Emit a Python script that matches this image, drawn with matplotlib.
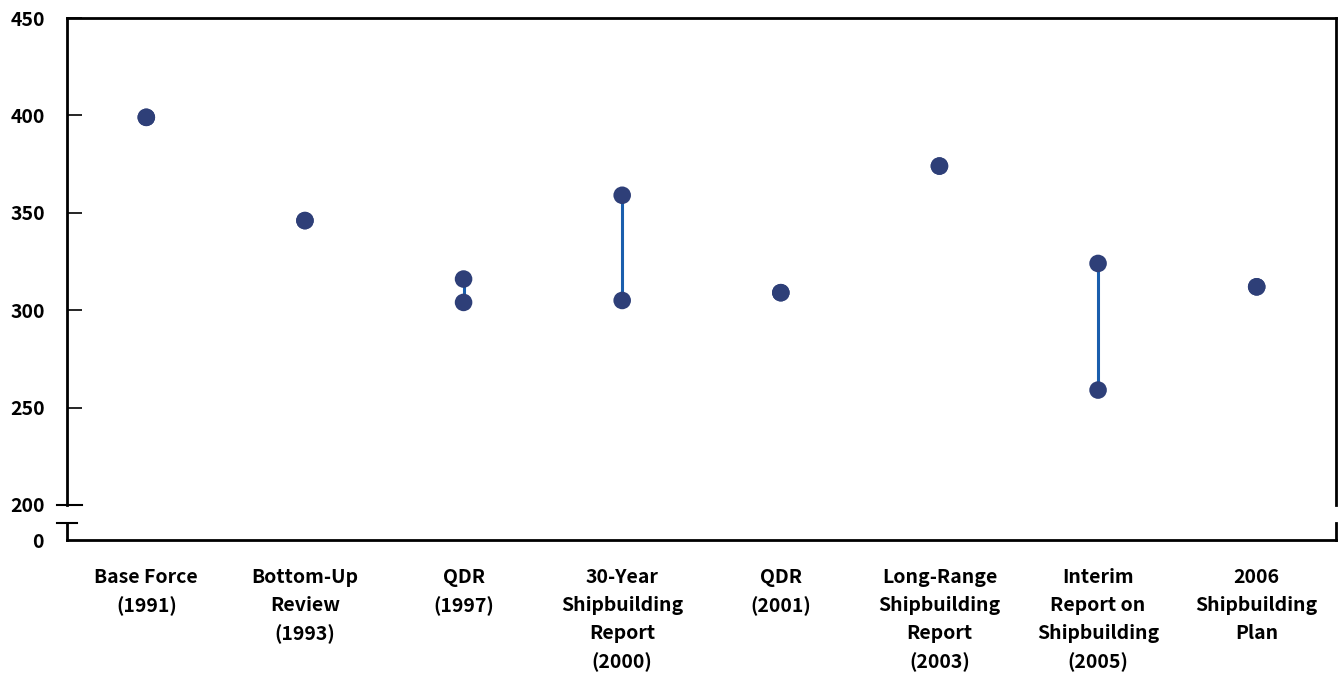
import matplotlib
matplotlib.use("Agg")
import matplotlib.pyplot as plt
from matplotlib.lines import Line2D

plt.rcParams['font.family'] = ['Noto Sans CJK KR', 'DejaVu Sans']

categories = ["Base Force\n(1991)", "Bottom-Up\nReview\n(1993)", "QDR\n(1997)",
              "30-Year\nShipbuilding\nReport\n(2000)", "QDR\n(2001)",
              "Long-Range\nShipbuilding\nReport\n(2003)",
              "Interim\nReport on\nShipbuilding\n(2005)", "2006\nShipbuilding\nPlan"]
low_values = [399, 346, 304, 305, 309, 374, 259, 312]
high_values = [399, 346, 316, 359, 309, 374, 324, 312]
yticks = [200, 250, 300, 350, 400, 450]

W, H = 1338, 673
fig = plt.figure(figsize=(W / 100, H / 100), dpi=100)

def fx(px):
    return px / W

def fy(py):
    return 1 - py / H

L, R = 67, 1336
ax = fig.add_axes([fx(L), fy(505), fx(R - L), (505 - 18) / H])
ax2 = fig.add_axes([fx(L), fy(540), fx(R - L), (540 - 523) / H])

dot_color = "#2E3F78"
line_color = "#1A5EAD"
xs = [i + 0.5 for i in range(len(categories))]

for x, lo, hi in zip(xs, low_values, high_values):
    if hi != lo:
        ax.plot([x, x], [lo, hi], color=line_color, lw=2.2, zorder=2)
ax.scatter(xs, low_values, s=160, color=dot_color, zorder=3, edgecolors="none")
ax.scatter(xs, high_values, s=160, color=dot_color, zorder=3, edgecolors="none")

ax.set_xlim(0, len(categories))
ax.set_ylim(200, 450)
ax.set_yticks(yticks)
ax.set_yticklabels([str(v) for v in yticks], fontsize=14, fontweight="bold")
ax.tick_params(axis="y", direction="in", length=11, width=1.2, pad=16)
ax.tick_params(axis="x", bottom=False, labelbottom=False)
ax.spines["bottom"].set_visible(False)
for s in ["left", "top", "right"]:
    ax.spines[s].set_linewidth(2)

ax2.set_xlim(0, len(categories))
ax2.set_ylim(0, 1)
ax2.set_yticks([0])
ax2.set_yticklabels(["0"], fontsize=14, fontweight="bold")
ax2.tick_params(axis="y", length=0, pad=17)
ax2.set_xticks(xs)
ax2.set_xticklabels(categories, fontsize=14, fontweight="bold", linespacing=1.6)
ax2.tick_params(axis="x", length=0, pad=20)
ax2.spines["top"].set_visible(False)
for s in ["left", "bottom", "right"]:
    ax2.spines[s].set_linewidth(2)
ax2.patch.set_alpha(0)

# break marks
fig.add_artist(Line2D([fx(57), fx(82)], [fy(505), fy(505)], color="black", lw=1.5))
fig.add_artist(Line2D([fx(57), fx(77)], [fy(523), fy(523)], color="black", lw=1.5))

fig.savefig("out.png", dpi=100)
